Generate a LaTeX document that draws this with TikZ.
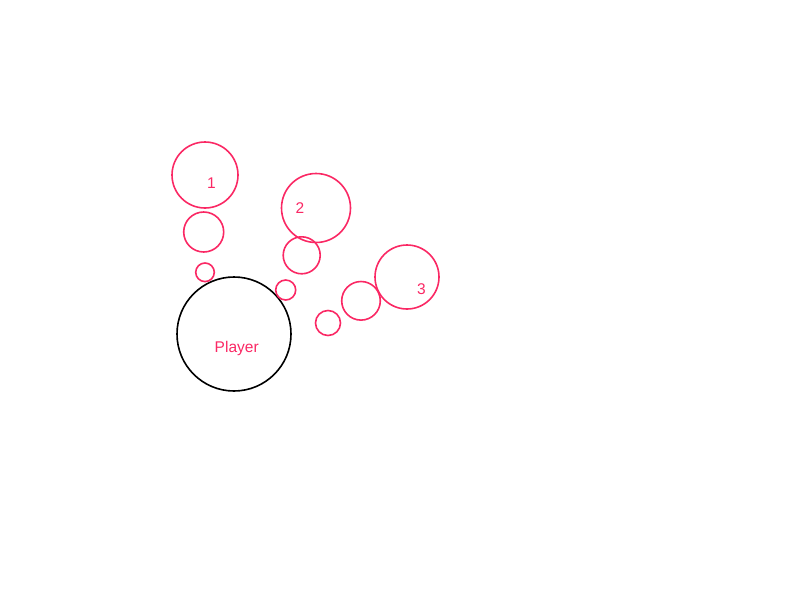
\documentclass[tikz,border=0pt]{standalone}
\usepackage{fontspec}
\setmainfont{Liberation Sans}
\definecolor{pinkc}{RGB}{250,40,100}
\begin{document}
\begin{tikzpicture}[x=1pt,y=-1pt,
  bub/.style={circle,draw=pinkc,line width=1.6pt,inner sep=0pt},
  lab/.style={text=pinkc,font=\fontsize{15.5}{15.5}\selectfont,inner sep=0pt},
  pl/.style={circle,draw=black,line width=1.6pt,inner sep=0pt}]
\useasboundingbox (0,0) rectangle (800,600);
\node[pl,minimum size=114pt] (player) at (234,334) {};
\node[lab] (playerlab) at (236.7,348.3) {Player};
\node[bub,minimum size=66pt] (c1) at (205,175) {};
\node[lab] (l1) at (211.5,182.8) {1};
\node[bub,minimum size=40pt] (c1b) at (203.7,232) {};
\node[bub,minimum size=18.6pt] (c1c) at (205,272.3) {};
\node[bub,minimum size=69pt] (c2) at (316,208) {};
\node[lab] (l2) at (300,208) {2};
\node[bub,minimum size=37pt] (c2b) at (301.7,255.3) {};
\node[bub,minimum size=20pt] (c2c) at (285.7,290) {};
\node[bub,minimum size=64pt] (c3) at (407,277) {};
\node[lab] (l3) at (421.5,289.3) {3};
\node[bub,minimum size=38.6pt] (c3b) at (361,300.8) {};
\node[bub,minimum size=25pt] (c3c) at (328,323) {};
\end{tikzpicture}
\end{document}
